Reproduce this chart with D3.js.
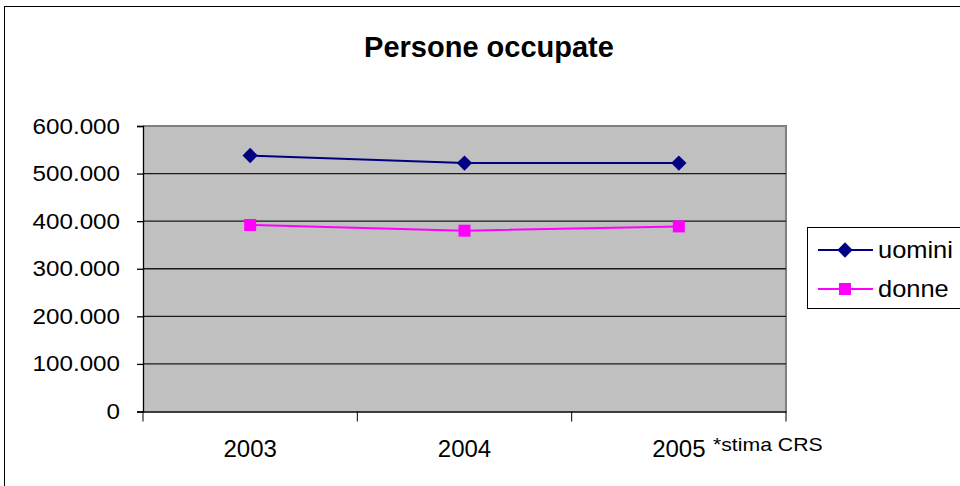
<!DOCTYPE html>
<html>
<head>
<meta charset="utf-8">
<script src="https://cdn.jsdelivr.net/npm/d3@7"></script>
<style>
  html, body { margin: 0; padding: 0; background: #fff; }
  svg { display: block; font-family: Arial, "Liberation Sans", sans-serif; }
</style>
</head>
<body>
<svg id="chart" width="960" height="486"></svg>
<script>
// Occupied persons by year and sex
const years = ["2003", "2004", "2005"];
const uomini = [538000, 522000, 522000];
const donne = [392000, 380000, 389000];
const yTicks = [0, 100000, 200000, 300000, 400000, 500000, 600000];
const titleText = "Persone occupate";
const noteText = "*stima CRS";
const seriesNames = ["uomini", "donne"];
const seriesColors = ["#000080", "#ff00ff"];

const svg = d3.select("#chart");

// outer chart frame (runs off the right and bottom edges)
svg.append("rect")
  .attr("x", 4.5).attr("y", 6.5)
  .attr("width", 1000).attr("height", 1000)
  .attr("fill", "#fff").attr("stroke", "#000").attr("stroke-width", 1);

const plot = { left: 143, right: 786, top: 126, bottom: 411.5 };

const x = d3.scaleBand().domain(years).range([plot.left, plot.right]).padding(0);
const y = d3.scaleLinear().domain([0, 600000]).range([plot.bottom, plot.top]);

const it = d3.formatLocale({ decimal: ",", thousands: ".", grouping: [3], currency: ["€", ""] });
const fmt = it.format(",");

// plot background
svg.append("rect")
  .attr("x", plot.left).attr("y", plot.top)
  .attr("width", plot.right - plot.left).attr("height", plot.bottom - plot.top)
  .attr("fill", "#c0c0c0");

// gray border on top and right
svg.append("path")
  .attr("d", `M${plot.left},${plot.top} H${plot.right} V${plot.bottom}`)
  .attr("fill", "none").attr("stroke", "#808080").attr("stroke-width", 2);

// horizontal gridlines
svg.append("g").selectAll("line")
  .data(yTicks.filter(d => d > 0 && d < 600000))
  .join("line")
  .attr("x1", plot.left).attr("x2", plot.right)
  .attr("y1", d => y(d)).attr("y2", d => y(d))
  .attr("stroke", "#1a1a1a").attr("stroke-width", 1.3);

// y axis
const yAxis = svg.append("g")
  .attr("transform", `translate(${plot.left},0)`)
  .call(d3.axisLeft(y).tickValues(yTicks).tickFormat(d => fmt(d)).tickSize(6).tickPadding(17));
yAxis.select(".domain").attr("stroke", "#000").attr("stroke-width", 1.3);
yAxis.selectAll(".tick line").attr("stroke", "#000").attr("stroke-width", 1.3);
yAxis.selectAll(".tick text")
  .attr("x", null)
  .attr("transform", "translate(-23,0) scale(1.1,1)")
  .attr("font-size", 22).attr("font-family", "Arial, 'Liberation Sans', sans-serif")
  .attr("fill", "#000");

// x axis: baseline, ticks on category boundaries, labels at band centres
const xAxis = svg.append("g")
  .attr("transform", `translate(0,${plot.bottom})`)
  .call(d3.axisBottom(x).tickSize(0).tickPadding(28));
xAxis.select(".domain").attr("stroke", "#000").attr("stroke-width", 1.3);
xAxis.selectAll(".tick text")
  .attr("font-size", 24).attr("font-family", "Arial, 'Liberation Sans', sans-serif")
  .attr("fill", "#000");
const bounds = years.map(d => x(d)).concat([x.range()[1]]);
xAxis.append("g").selectAll("line")
  .data(bounds)
  .join("line")
  .attr("x1", d => d).attr("x2", d => d)
  .attr("y1", 0).attr("y2", 10)
  .attr("stroke", "#000").attr("stroke-width", 1);

// note beside the last year
svg.append("text")
  .attr("transform", "translate(713,451) scale(1.18,1)")
  .attr("font-size", 18)
  .attr("fill", "#000")
  .text(noteText);

// title
svg.append("text")
  .attr("x", 489).attr("y", 57)
  .attr("text-anchor", "middle")
  .attr("font-size", 29).attr("font-weight", "bold")
  .attr("fill", "#000")
  .text(titleText);

// series
const cx = d => x(d) + x.bandwidth() / 2;
const line = d3.line().x(d => cx(d.year)).y(d => y(d.value));
const series = [uomini, donne].map((vals, i) => ({
  name: seriesNames[i],
  color: seriesColors[i],
  points: years.map((yr, j) => ({ year: yr, value: vals[j] }))
}));

const diamond = d3.symbol().type(d3.symbolDiamond2).size(150);
const square = d3.symbol().type(d3.symbolSquare).size(144);

series.forEach((s, i) => {
  svg.append("path")
    .datum(s.points)
    .attr("d", line)
    .attr("fill", "none").attr("stroke", s.color).attr("stroke-width", 2);
  svg.append("g").selectAll("path")
    .data(s.points)
    .join("path")
    .attr("transform", d => `translate(${cx(d.year)},${y(d.value)})`)
    .attr("d", i === 0 ? diamond : square)
    .attr("fill", s.color);
});

// legend
const legend = svg.append("g");
legend.append("rect")
  .attr("x", 807.5).attr("y", 227.5)
  .attr("width", 170).attr("height", 81)
  .attr("fill", "#fff").attr("stroke", "#000").attr("stroke-width", 1);
const legY = [250, 289];
series.forEach((s, i) => {
  const g = legend.append("g").attr("transform", `translate(0,${legY[i]})`);
  g.append("line")
    .attr("x1", 818).attr("x2", 873).attr("y1", 0).attr("y2", 0)
    .attr("stroke", s.color).attr("stroke-width", 2);
  g.append("path")
    .attr("transform", "translate(845,0)")
    .attr("d", i === 0 ? diamond : square)
    .attr("fill", s.color);
  g.append("text")
    .attr("transform", "translate(878,0) scale(1.06,1)")
    .attr("dy", "0.35em")
    .attr("font-size", 24).attr("fill", "#000")
    .text(s.name);
});
</script>
</body>
</html>
